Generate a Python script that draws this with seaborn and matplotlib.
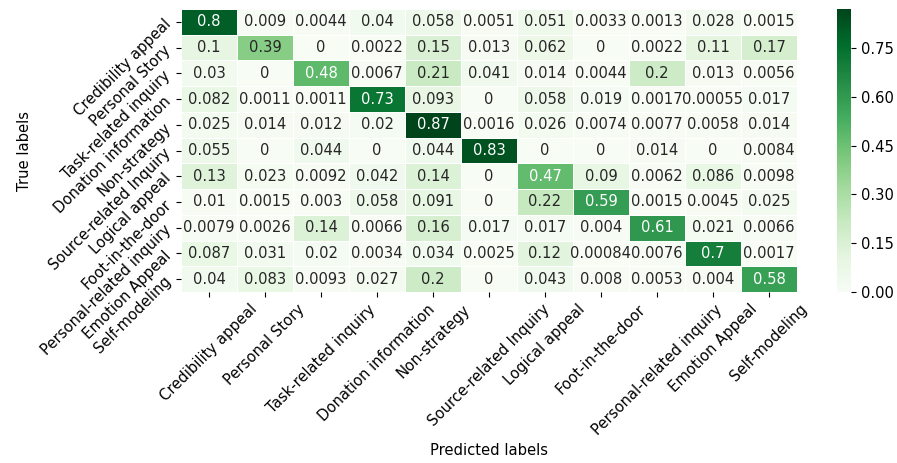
import matplotlib
matplotlib.use("Agg")
import matplotlib.pyplot as plt
import numpy as np
import pandas as pd
import seaborn as sns

plt.rcParams['font.size'] = 10.6

labels = ['Credibility appeal', 'Personal Story', 'Task-related inquiry',
          'Donation information', 'Non-strategy', 'Source-related Inquiry',
          'Logical appeal', 'Foot-in-the-door', 'Personal-related inquiry',
          'Emotion Appeal', 'Self-modeling']

row_cred = [0.8, 0.009, 0.0044, 0.04, 0.058, 0.0051, 0.051, 0.0033, 0.0013, 0.028, 0.0015]
row_story = [0.1, 0.39, 0, 0.0022, 0.15, 0.013, 0.062, 0, 0.0022, 0.11, 0.17]
row_task = [0.03, 0, 0.48, 0.0067, 0.21, 0.041, 0.014, 0.0044, 0.2, 0.013, 0.0056]
row_donation = [0.082, 0.0011, 0.0011, 0.73, 0.093, 0, 0.058, 0.019, 0.0017, 0.00055, 0.017]
row_non = [0.025, 0.014, 0.012, 0.02, 0.87, 0.0016, 0.026, 0.0074, 0.0077, 0.0058, 0.014]
row_source = [0.055, 0, 0.044, 0, 0.044, 0.83, 0, 0, 0.014, 0, 0.0084]
row_logical = [0.13, 0.023, 0.0092, 0.042, 0.14, 0, 0.47, 0.09, 0.0062, 0.086, 0.0098]
row_foot = [0.01, 0.0015, 0.003, 0.058, 0.091, 0, 0.22, 0.59, 0.0015, 0.0045, 0.025]
row_personal = [0.0079, 0.0026, 0.14, 0.0066, 0.16, 0.017, 0.017, 0.004, 0.61, 0.021, 0.0066]
row_emotion = [0.087, 0.031, 0.02, 0.0034, 0.034, 0.0025, 0.12, 0.00084, 0.0076, 0.7, 0.0017]
row_self = [0.04, 0.083, 0.0093, 0.027, 0.2, 0, 0.043, 0.008, 0.0053, 0.004, 0.58]

cbar_ticks = [0.0, 0.15, 0.30, 0.45, 0.60, 0.75]

cm = pd.DataFrame([row_cred, row_story, row_task, row_donation, row_non, row_source,
                   row_logical, row_foot, row_personal, row_emotion, row_self],
                  index=labels, columns=labels)

fig = plt.figure(figsize=(8.97, 4.63), dpi=100)
ax = fig.add_axes([0.2018, 0.3693, 0.6867, 0.6112])
cax = fig.add_axes([0.9331, 0.3693, 0.0156, 0.6112])

sns.heatmap(cm, annot=True, cmap='Greens', linewidths=0.5, linecolor='white',
            ax=ax, cbar_ax=cax, cbar_kws={'ticks': cbar_ticks})

ax.set_xlabel('Predicted labels')
ax.set_ylabel('True labels')
ax.set_xticklabels(labels, rotation=45, ha='center')
ax.set_yticklabels(labels, rotation=45, ha='right', va='center', rotation_mode='anchor')
ax.tick_params(axis='y', pad=5.5)
cax.set_yticklabels(['0.00', '0.15', '0.30', '0.45', '0.60', '0.75'])

fig.savefig('out.png', dpi=100)
